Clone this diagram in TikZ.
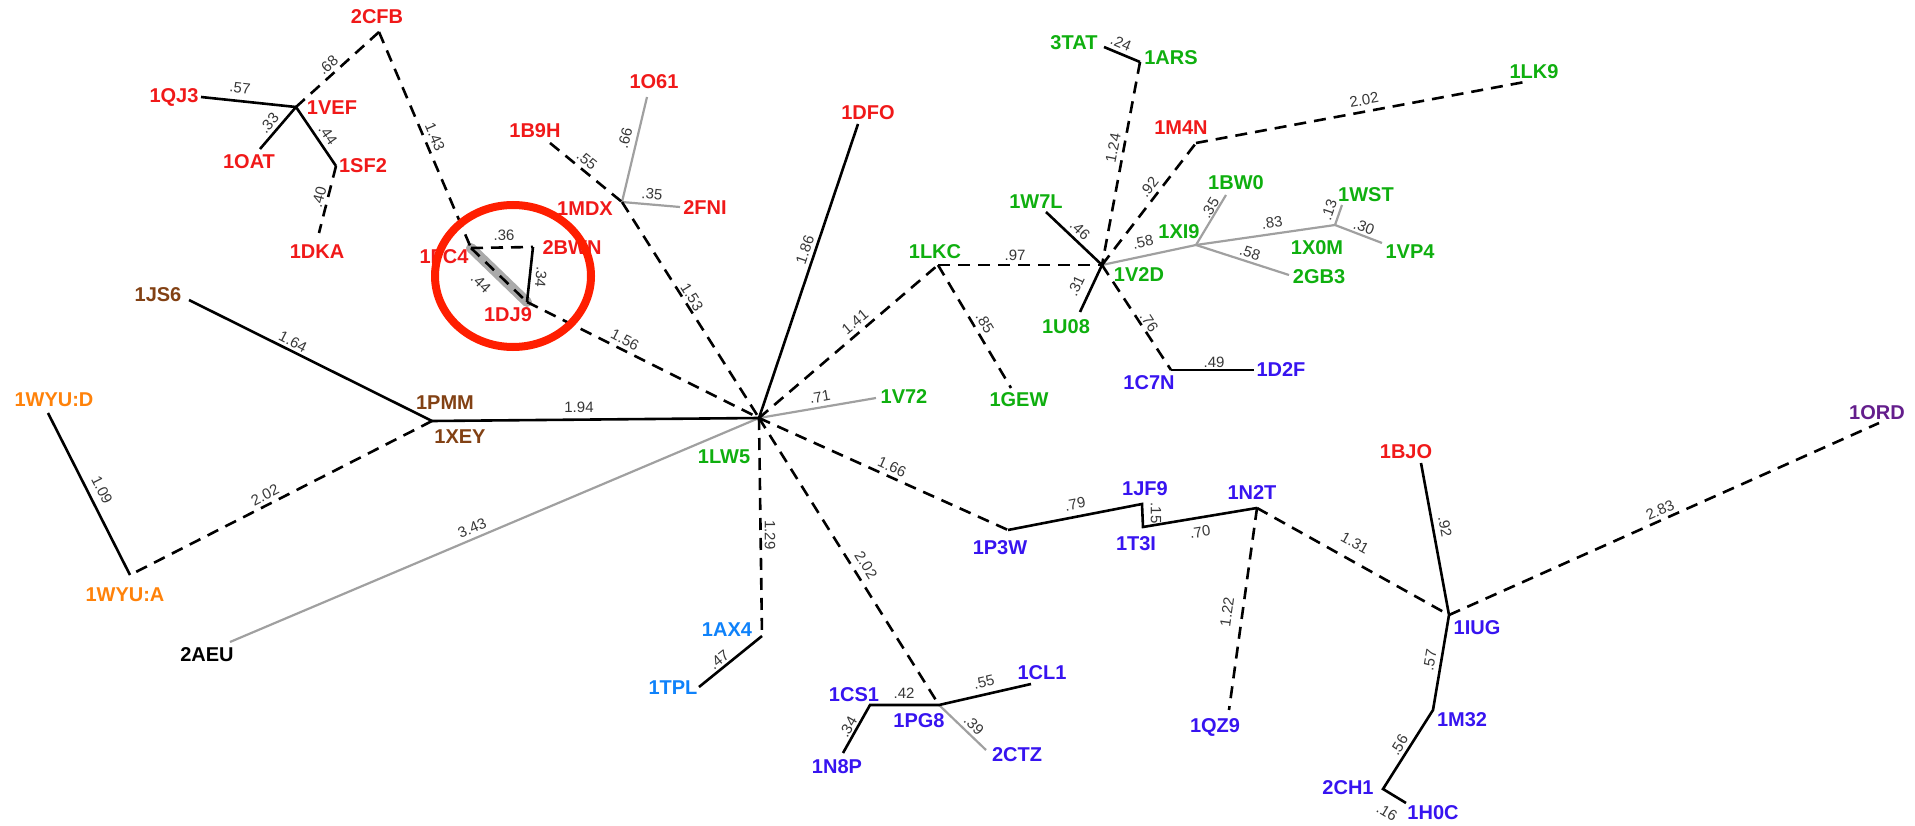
\documentclass[tikz,border=0pt]{standalone}
\usepackage{fontspec}
\setmainfont{Liberation Sans}
\definecolor{cred}{RGB}{240,25,25}
\definecolor{cgreen}{RGB}{15,175,15}
\definecolor{cblue}{RGB}{55,20,240}
\definecolor{clblue}{RGB}{15,130,250}
\definecolor{corange}{RGB}{255,130,10}
\definecolor{cbrown}{RGB}{130,65,20}
\definecolor{cpurple}{RGB}{100,30,140}
\definecolor{elabc}{RGB}{55,55,55}
\definecolor{linegray}{RGB}{160,160,160}
\definecolor{bandgray}{RGB}{170,170,170}
\definecolor{circred}{RGB}{255,30,0}
\begin{document}
\begin{tikzpicture}[x=1pt,y=-1pt,
  lab/.style={font=\bfseries\fontsize{20}{20}\selectfont, inner sep=0pt},
  elab/.style={font=\fontsize{15}{15}\selectfont, text=elabc, inner sep=0pt},
  br/.style={line width=2.6pt, black},
  bd/.style={line width=2.6pt, black, dash pattern=on 12pt off 8pt},
  gr/.style={line width=2.2pt, linegray}]
\useasboundingbox (0,0) rectangle (1915,826);
% junctions
\coordinate (cfb) at (379,32);
\coordinate (vef) at (296,107);
\coordinate (qj3) at (201,97);
\coordinate (oat) at (260,149);
\coordinate (sf2) at (336,166);
\coordinate (dka) at (319,233);
\coordinate (fc4) at (471,248);
\coordinate (bwn) at (533,247);
\coordinate (dj9) at (527,302);
\coordinate (o61) at (647,97);
\coordinate (mdx) at (622,202);
\coordinate (fni) at (680,207);
\coordinate (b9h) at (550,143);
\coordinate (hub) at (759,418);
\coordinate (dfo) at (858,124);
\coordinate (lkc) at (938,265);
\coordinate (v72) at (876,398);
\coordinate (pmm) at (432,421);
\coordinate (js6) at (189,300);
\coordinate (wyud) at (48,413);
\coordinate (wyua) at (130,575);
\coordinate (aeu) at (230,642);
\coordinate (ax4) at (762,636);
\coordinate (tpl) at (699,687);
\coordinate (p3w) at (1008,530);
\coordinate (jf9) at (1142,504);
\coordinate (t3i) at (1143,527);
\coordinate (n2t) at (1257,508);
\coordinate (qz9) at (1229,710);
\coordinate (pg8) at (939,705);
\coordinate (cs1) at (870,705);
\coordinate (cl1) at (1031,684);
\coordinate (ctz) at (986,750);
\coordinate (n8p) at (843,753);
\coordinate (iug) at (1449,615);
\coordinate (bjo) at (1421,463);
\coordinate (ord) at (1879,423);
\coordinate (m32) at (1433,710);
\coordinate (ch1) at (1383,789);
\coordinate (h0c) at (1406,803);
\coordinate (v2d) at (1102,265);
\coordinate (gew) at (1011,388);
\coordinate (w7l) at (1046,212);
\coordinate (u08) at (1080,312);
\coordinate (ars) at (1140,62);
\coordinate (tat) at (1104,47);
\coordinate (m4n) at (1196,143);
\coordinate (lk9) at (1530,81);
\coordinate (xi9) at (1196,245);
\coordinate (bw0) at (1226,195);
\coordinate (x0m) at (1335,225);
\coordinate (wst) at (1342,205);
\coordinate (vp4) at (1382,243);
\coordinate (gb3) at (1289,275);
\coordinate (c7n) at (1171,370);
\coordinate (d2f) at (1254,370);
% highlight band
\draw[line width=10pt, bandgray, line cap=round] (fc4) -- (dj9);
% gray edges
\draw[gr] (mdx) -- (o61);
\draw[gr] (mdx) -- (fni);
\draw[gr] (hub) -- (v72);
\draw[gr] (hub) -- (aeu);
\draw[gr] (pg8) -- (ctz);
\draw[gr] (v2d) -- (xi9);
\draw[gr] (xi9) -- (bw0);
\draw[gr] (xi9) -- (x0m);
\draw[gr] (x0m) -- (wst);
\draw[gr] (x0m) -- (vp4);
\draw[gr] (xi9) -- (gb3);
% solid edges
\draw[br] (vef) -- (qj3);
\draw[br] (vef) -- (oat);
\draw[br] (vef) -- (sf2);
\draw[br] (bwn) -- (dj9);
\draw[br] (hub) -- (dfo);
\draw[br] (hub) -- (pmm);
\draw[br] (js6) -- (pmm);
\draw[br] (wyud) -- (wyua);
\draw[br] (ax4) -- (tpl);
\draw[br] (p3w) -- (jf9) -- (t3i) -- (n2t);
\draw[br] (n8p) -- (cs1) -- (pg8) -- (cl1);
\draw[br] (bjo) -- (iug) -- (m32) -- (ch1) -- (h0c);
\draw[br] (tat) -- (ars);
\draw[br] (w7l) -- (v2d) -- (u08);
\draw[br] (c7n) -- (d2f);
% dashed edges
\draw[bd] (cfb) -- (vef);
\draw[bd] (sf2) -- (dka);
\draw[bd] (cfb) -- (fc4);
\draw[bd] (fc4) -- (bwn);
\draw[bd] (fc4) -- (dj9);
\draw[bd] (dj9) -- (hub);
\draw[bd] (b9h) -- (mdx);
\draw[bd] (mdx) -- (hub);
\draw[bd] (hub) -- (lkc);
\draw[bd] (pmm) -- (wyua);
\draw[bd] (hub) -- (ax4);
\draw[bd] (hub) -- (p3w);
\draw[bd] (hub) -- (pg8);
\draw[bd] (n2t) -- (qz9);
\draw[bd] (n2t) -- (iug);
\draw[bd] (iug) -- (ord);
\draw[bd] (lkc) -- (v2d);
\draw[bd] (lkc) -- (gew);
\draw[bd] (ars) -- (v2d);
\draw[bd] (v2d) -- (m4n);
\draw[bd] (m4n) -- (lk9);
\draw[bd] (v2d) -- (c7n);
% node labels
\node[lab, text=cred] (L2CFB) at (377,17) {2CFB};
\node[lab, text=cred] (L1VEF) at (332,108) {1VEF};
\node[lab, text=cred] (L1QJ3) at (174,97) {1QJ3};
\node[lab, text=cred] (L1OAT) at (249,162) {1OAT};
\node[lab, text=cred] (L1SF2) at (363,166) {1SF2};
\node[lab, text=cred] (L1DKA) at (317,252) {1DKA};
\node[lab, text=cred] (L1FC4) at (444,257) {1FC4};
\node[lab, text=cred] (L2BWN) at (572,248) {2BWN};
\node[lab, text=cred] (L1DJ9) at (508,315) {1DJ9};
\node[lab, text=cred] (L1O61) at (654,82) {1O61};
\node[lab, text=cred] (L2FNI) at (705,208) {2FNI};
\node[lab, text=cred] (L1MDX) at (585,209) {1MDX};
\node[lab, text=cred] (L1B9H) at (535,131) {1B9H};
\node[lab, text=cred] (L1DFO) at (868,113) {1DFO};
\node[lab, text=cred] (L1M4N) at (1181,128) {1M4N};
\node[lab, text=cred] (L1BJO) at (1406,452) {1BJO};
\node[lab, text=cgreen] (L1LKC) at (935,252) {1LKC};
\node[lab, text=cgreen] (L1V72) at (904,397) {1V72};
\node[lab, text=cgreen] (L1LW5) at (724,457) {1LW5};
\node[lab, text=cgreen] (L1GEW) at (1019,400) {1GEW};
\node[lab, text=cgreen] (L1W7L) at (1036,202) {1W7L};
\node[lab, text=cgreen] (L1U08) at (1066,327) {1U08};
\node[lab, text=cgreen] (L1V2D) at (1139,275) {1V2D};
\node[lab, text=cgreen] (L1ARS) at (1171,58) {1ARS};
\node[lab, text=cgreen] (L3TAT) at (1074,43) {3TAT};
\node[lab, text=cgreen] (L1LK9) at (1534,72) {1LK9};
\node[lab, text=cgreen] (L1XI9) at (1179,232) {1XI9};
\node[lab, text=cgreen] (L1BW0) at (1236,183) {1BW0};
\node[lab, text=cgreen] (L1X0M) at (1317,248) {1X0M};
\node[lab, text=cgreen] (L1WST) at (1366,195) {1WST};
\node[lab, text=cgreen] (L1VP4) at (1410,252) {1VP4};
\node[lab, text=cgreen] (L2GB3) at (1319,277) {2GB3};
\node[lab, text=cblue] (L1C7N) at (1149,383) {1C7N};
\node[lab, text=cblue] (L1D2F) at (1281,370) {1D2F};
\node[lab, text=cblue] (L1P3W) at (1000,548) {1P3W};
\node[lab, text=cblue] (L1JF9) at (1145,489) {1JF9};
\node[lab, text=cblue] (L1T3I) at (1136,544) {1T3I};
\node[lab, text=cblue] (L1N2T) at (1252,493) {1N2T};
\node[lab, text=cblue] (L1QZ9) at (1215,727) {1QZ9};
\node[lab, text=cblue] (L1CS1) at (854,695) {1CS1};
\node[lab, text=cblue] (L1PG8) at (919,721) {1PG8};
\node[lab, text=cblue] (L1CL1) at (1042,673) {1CL1};
\node[lab, text=cblue] (L2CTZ) at (1017,755) {2CTZ};
\node[lab, text=cblue] (L1N8P) at (837,767) {1N8P};
\node[lab, text=cblue] (L1IUG) at (1477,628) {1IUG};
\node[lab, text=cblue] (L1M32) at (1462,720) {1M32};
\node[lab, text=cblue] (L2CH1) at (1348,788) {2CH1};
\node[lab, text=cblue] (L1H0C) at (1433,813) {1H0C};
\node[lab, text=clblue] (L1AX4) at (727,630) {1AX4};
\node[lab, text=clblue] (L1TPL) at (673,688) {1TPL};
\node[lab, text=corange] (L1WYUD) at (54,400) {1WYU:D};
\node[lab, text=corange] (L1WYUA) at (125,595) {1WYU:A};
\node[lab, text=cbrown] (L1JS6) at (158,295) {1JS6};
\node[lab, text=cbrown] (L1PMM) at (445,403) {1PMM};
\node[lab, text=cbrown] (L1XEY) at (460,437) {1XEY};
\node[lab, text=cpurple] (L1ORD) at (1877,413) {1ORD};
\node[lab, text=black] (L2AEU) at (207,655) {2AEU};
% edge labels
\node[elab, rotate=42] (e1) at (328,65) {.68};
\node[elab, rotate=-6] (e2) at (240,88) {.57};
\node[elab, rotate=49] (e3) at (269,123) {.33};
\node[elab, rotate=-55] (e4) at (328,135) {.44};
\node[elab, rotate=75] (e5) at (319,197) {.40};
\node[elab, rotate=-67] (e6) at (435,137) {1.43};
\node[elab, rotate=1] (e7) at (504,235) {.36};
\node[elab, rotate=-95] (e8) at (541,277) {.34};
\node[elab, rotate=-44] (e9) at (481,283) {.44};
\node[elab, rotate=76] (e10) at (625,138) {.66};
\node[elab, rotate=-5] (e11) at (652,194) {.35};
\node[elab, rotate=-39] (e12) at (587,160) {.55};
\node[elab, rotate=-58] (e13) at (692,297) {1.53};
\node[elab, rotate=-27] (e14) at (625,340) {1.56};
\node[elab, rotate=71] (e15) at (805,250) {1.86};
\node[elab, rotate=40] (e16) at (855,322) {1.41};
\node[elab, rotate=10] (e17) at (820,397) {.71};
\node[elab] (e18) at (579,407) {1.94};
\node[elab, rotate=-27] (e19) at (293,342) {1.64};
\node[elab, rotate=-63] (e20) at (102,490) {1.09};
\node[elab, rotate=27] (e21) at (265,495) {2.02};
\node[elab, rotate=23] (e22) at (472,528) {3.43};
\node[elab, rotate=-90] (e23) at (770,535) {1.29};
\node[elab, rotate=39] (e24) at (719,660) {.47};
\node[elab, rotate=-24] (e25) at (892,467) {1.66};
\node[elab, rotate=11] (e26) at (1075,504) {.79};
\node[elab, rotate=-90] (e27) at (1156,513) {.15};
\node[elab, rotate=9] (e28) at (1200,532) {.70};
\node[elab, rotate=82] (e29) at (1227,612) {1.22};
\node[elab, rotate=-58] (e30) at (866,565) {2.02};
\node[elab] (e31) at (904,693) {.42};
\node[elab, rotate=13] (e32) at (984,682) {.55};
\node[elab, rotate=-44] (e33) at (974,725) {.39};
\node[elab, rotate=60] (e34) at (848,727) {.34};
\node[elab, rotate=-29] (e35) at (1355,543) {1.31};
\node[elab, rotate=-80] (e36) at (1445,527) {.92};
\node[elab, rotate=24] (e37) at (1660,510) {2.83};
\node[elab, rotate=80] (e38) at (1430,660) {.57};
\node[elab, rotate=58] (e39) at (1399,745) {.56};
\node[elab, rotate=-31] (e40) at (1387,812) {.16};
\node[elab] (e41) at (1015,255) {.97};
\node[elab, rotate=-59] (e42) at (985,323) {.85};
\node[elab, rotate=-43] (e43) at (1080,230) {.46};
\node[elab, rotate=65] (e44) at (1076,286) {.31};
\node[elab, rotate=-23] (e45) at (1121,43) {.24};
\node[elab, rotate=79] (e46) at (1113,148) {1.24};
\node[elab, rotate=52] (e47) at (1149,187) {.92};
\node[elab, rotate=10] (e48) at (1364,100) {2.02};
\node[elab, rotate=12] (e49) at (1143,242) {.58};
\node[elab, rotate=59] (e50) at (1210,208) {.35};
\node[elab, rotate=8] (e51) at (1272,223) {.83};
\node[elab, rotate=71] (e52) at (1329,210) {.13};
\node[elab, rotate=-21] (e53) at (1364,227) {.30};
\node[elab, rotate=-18] (e54) at (1250,253) {.58};
\node[elab, rotate=-57] (e55) at (1149,322) {.76};
\node[elab] (e56) at (1214,362) {.49};
% red circle
\draw[circred, line width=8pt] (513,276) ellipse [x radius=78pt, y radius=71pt];
\end{tikzpicture}
\end{document}
